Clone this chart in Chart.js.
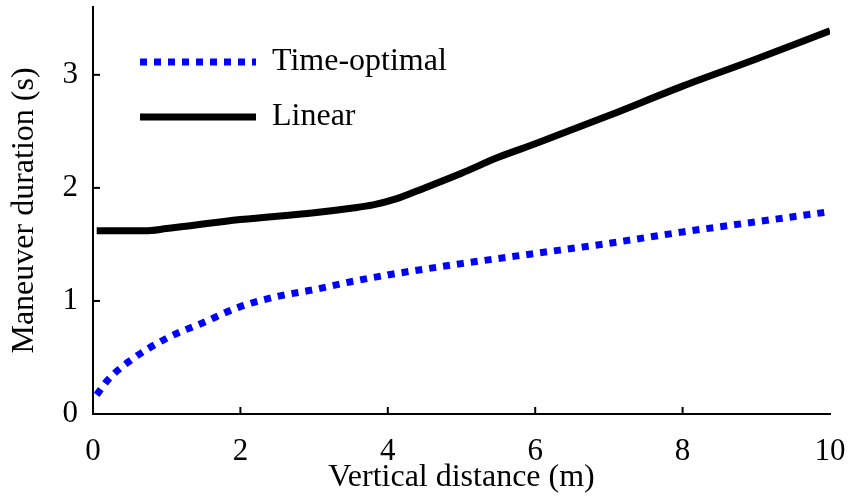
<!DOCTYPE html>
<html>
<head>
<meta charset="utf-8">
<script src="https://cdn.jsdelivr.net/npm/chart.js@4"></script>
<style>
  html, body { margin: 0; padding: 0; background: #fff; }
  #wrap { width: 848px; height: 497px; }
</style>
</head>
<body>
<div id="wrap"><canvas id="durChart" width="848" height="497"></canvas></div>
<script>
// data
const optX = [0.05, 0.2, 0.5, 1.0, 1.5, 2.0, 2.5, 3.0, 3.5, 4.0, 5.0, 6.0, 7.0, 8.0, 9.0, 10.0];
const optY = [0.17, 0.30, 0.47, 0.67, 0.81, 0.95, 1.04, 1.10, 1.17, 1.23, 1.33, 1.42, 1.51, 1.61, 1.70, 1.79];
const linX = [0.05, 0.7, 1.0, 2.0, 3.0, 3.5, 3.8, 4.1, 4.5, 5.0, 5.5, 6.0, 7.0, 8.0, 9.0, 10.0];
const linY = [1.62, 1.62, 1.64, 1.72, 1.78, 1.82, 1.85, 1.90, 2.00, 2.13, 2.27, 2.39, 2.64, 2.90, 3.14, 3.39];
const xTicks = [0, 2, 4, 6, 8, 10];
const yTicks = [0, 1, 2, 3];
const labels = ["Time-optimal", "Linear"];

const FONT = "'Liberation Serif', 'Times New Roman', serif";

function pts(xs, ys) {
    return xs.map((x, i) => ({ x: x, y: ys[i] }));
}

// small inward tick marks like the matlab axes
const innerTicks = {
    id: 'innerTicks',
    afterDraw(chart) {
        const c = chart.ctx;
        const xs = chart.scales.x, ys = chart.scales.y;
        const a = chart.chartArea;
        c.save();
        c.strokeStyle = '#000';
        c.lineWidth = 2;
        xTicks.slice(1, -1).forEach(v => {
            const px = xs.getPixelForValue(v);
            c.beginPath(); c.moveTo(px, a.bottom); c.lineTo(px, a.bottom - 7); c.stroke();
        });
        yTicks.slice(1).forEach(v => {
            const py = ys.getPixelForValue(v);
            c.beginPath(); c.moveTo(a.left, py); c.lineTo(a.left + 7, py); c.stroke();
        });
        c.restore();
    }
};

// legend with line samples
const lineLegend = {
    id: 'lineLegend',
    afterDraw(chart) {
        const c = chart.ctx;
        const a = chart.chartArea;
        c.save();
        c.font = "32px " + FONT;
        c.textBaseline = 'middle';
        c.fillStyle = '#000';
        chart.data.datasets.forEach((ds, i) => {
            const y = a.top + 55 + i * 55;
            const x0 = a.left + 47;
            c.beginPath();
            c.strokeStyle = ds.borderColor;
            c.lineWidth = ds.borderWidth;
            c.setLineDash(ds.borderDash || []);
            c.moveTo(x0, y);
            c.lineTo(x0 + 116, y);
            c.stroke();
            c.setLineDash([]);
            c.fillText(ds.label, x0 + 132, y);
        });
        c.restore();
    }
};

const ctx = document.getElementById("durChart").getContext("2d");
const durChart = new Chart(ctx, {
    type: 'line',
    data: {
        datasets: [
            {
                label: labels[0],
                data: pts(optX, optY),
                borderColor: '#0000ff',
                borderWidth: 7,
                borderDash: [7, 7],
                pointRadius: 0,
                cubicInterpolationMode: 'monotone',
                fill: false
            },
            {
                label: labels[1],
                data: pts(linX, linY),
                borderColor: '#000000',
                borderWidth: 7,
                pointRadius: 0,
                cubicInterpolationMode: 'monotone',
                fill: false
            }
        ]
    },
    options: {
        responsive: false,
        animation: false,
        layout: { padding: { top: 7, right: 18, left: 0, bottom: 0 } },
        plugins: {
            legend: { display: false },
            tooltip: { enabled: false }
        },
        scales: {
            x: {
                type: 'linear',
                min: 0,
                max: 10,
                afterBuildTicks: s => { s.ticks = xTicks.map(v => ({ value: v })); },
                afterFit: s => { s.height = 83; s.paddingLeft = 0; s.paddingRight = 0; },
                grid: { display: false, drawTicks: false },
                border: { display: true, color: '#000', width: 2 },
                ticks: { color: '#000', padding: 19, maxRotation: 0, font: { family: FONT, size: 31 } },
                title: {
                    display: true,
                    text: 'Vertical distance (m)',
                    color: '#000',
                    padding: { top: 0, bottom: 0 },
                    font: { family: FONT, size: 32 }
                }
            },
            y: {
                type: 'linear',
                min: 0,
                max: 3.6,
                afterBuildTicks: s => { s.ticks = yTicks.map(v => ({ value: v })); },
                afterFit: s => { s.width = 93; s.paddingTop = 0; s.paddingBottom = 0; },
                grid: { display: false, drawTicks: false },
                border: { display: true, color: '#000', width: 2 },
                ticks: { color: '#000', padding: 15, font: { family: FONT, size: 31 } },
                title: {
                    display: true,
                    text: 'Maneuver duration (s)',
                    color: '#000',
                    padding: { top: 5, bottom: 0 },
                    font: { family: FONT, size: 32 }
                }
            }
        }
    },
    plugins: [innerTicks, lineLegend]
});
</script>
</body>
</html>
